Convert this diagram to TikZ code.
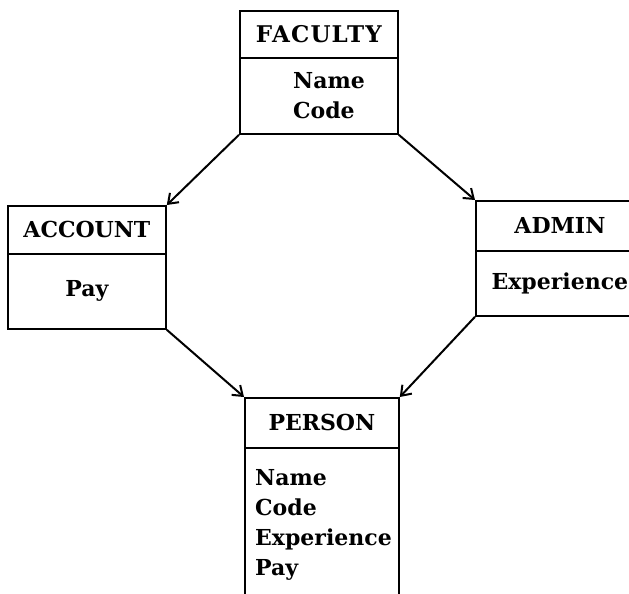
\documentclass[tikz,border=0pt]{standalone}
\usepackage{fontspec}
\setmainfont{DejaVu Serif}
\usetikzlibrary{arrows.meta}
\begin{document}
\begin{tikzpicture}[x=1pt,y=-1pt,
  box/.style={draw,line width=1.8pt,rectangle,inner sep=0pt,anchor=north west},
  lbl/.style={font=\fontsize{22}{30}\selectfont\bfseries,inner sep=0pt},
  conn/.style={line width=2pt,-{Straight Barb[length=9pt,width=13pt,line width=2pt]}}]
\useasboundingbox (0,0) rectangle (629,594);
\clip (0,0) rectangle (629,594);
% FACULTY
\node[box,minimum width=158pt,minimum height=47pt] (fh) at (239,10) {};
\node[box,minimum width=158pt,minimum height=76pt] (fb) at (239,57) {};
\node[lbl] (ft) at (fh.center) {\fontsize{23}{30}\selectfont\addfontfeature{LetterSpace=5}FACULTY};
\node[lbl,align=left,anchor=north] (fa) at (329,72) {Name\\Code};
% ACCOUNT
\node[box,minimum width=158pt,minimum height=48pt] (ah) at (7,205) {};
\node[box,minimum width=158pt,minimum height=75pt] (ab) at (7,253) {};
\node[lbl] (at) at (ah.center) {ACCOUNT};
\node[lbl] (aa) at (ab.center) {Pay};
% ADMIN
\node[box,minimum width=168pt,minimum height=50pt] (dh) at (475,200) {};
\node[box,minimum width=168pt,minimum height=65pt] (db) at (475,250) {};
\node[lbl] (dt) at (dh.center) {ADMIN};
\node[lbl] (da) at (db.center) {Experience};
% PERSON
\node[box,minimum width=154pt,minimum height=50pt] (ph) at (244,397) {};
\node[box,minimum width=154pt,minimum height=170pt] (pb) at (244,447) {};
\node[lbl] (pt) at (ph.center) {PERSON};
\node[lbl,align=left,anchor=north west] (pa) at (255,469) {Name\\Code\\Experience\\Pay};
% connectors
\draw[conn] (fb.south west) -- (ah.north east);
\draw[conn] (fb.south east) -- (dh.north west);
\draw[conn] (ab.south east) -- (ph.north west);
\draw[conn] (db.south west) -- (ph.north east);
\end{tikzpicture}
\end{document}
